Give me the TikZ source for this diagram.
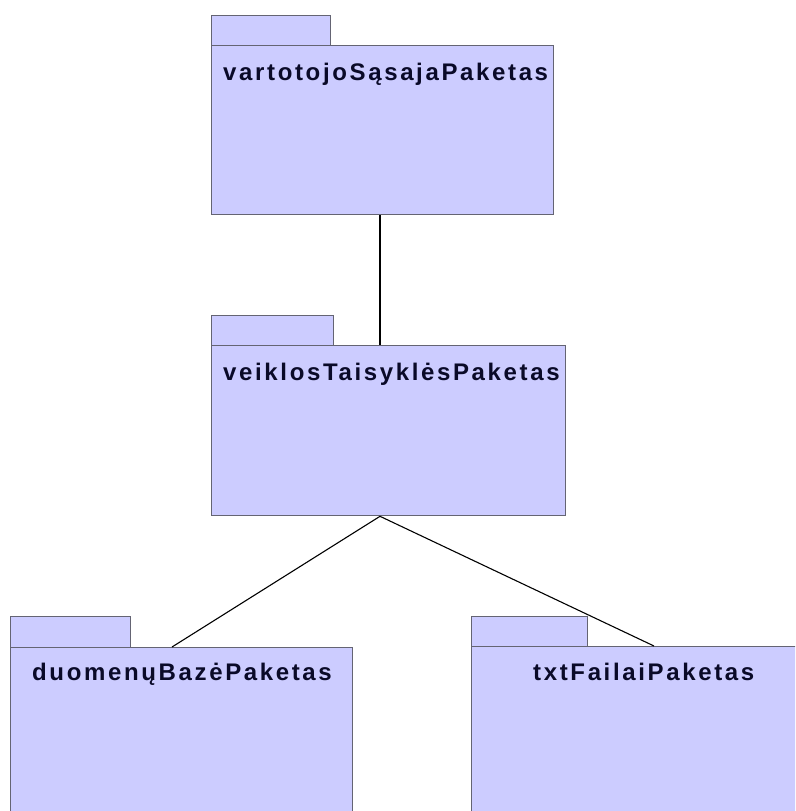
\documentclass[tikz,border=0pt]{standalone}
\usepackage{fontspec}
\setmainfont{Liberation Sans}
\begin{document}
\begin{tikzpicture}[x=1pt,y=-1pt,
  pkg/.style={draw=pkgline,fill=pkgfill,line width=1.3pt,rectangle,inner sep=0pt,anchor=north west},
  pkgtext/.style={anchor=base west,inner sep=0pt,text=pkgtext,font=\fontsize{24}{25}\selectfont\bfseries\addfontfeature{LetterSpace=11}},
  conn/.style={draw=black,line width=1.1pt}]
\definecolor{pkgfill}{RGB}{204,204,255}
\definecolor{pkgline}{RGB}{100,100,115}
\definecolor{pkgtext}{RGB}{10,10,40}
\useasboundingbox (0,0) rectangle (795,811);
\clip (0,0) rectangle (795,811);
% top package
\node[pkg,minimum width=119pt,minimum height=30pt] (tab1) at (211,15) {};
\node[pkg,minimum width=342pt,minimum height=169pt] (b1) at (211,45) {};
\node[pkgtext] (t1) at (223,80) {vartotojoSąsajaPaketas};
% middle package
\node[pkg,minimum width=122pt,minimum height=30pt] (tab2) at (211,315) {};
\node[pkg,minimum width=354pt,minimum height=170pt] (b2) at (211,345) {};
\node[pkgtext] (t2) at (223,380) {veiklosTaisyklėsPaketas};
% bottom left package
\node[pkg,minimum width=120pt,minimum height=31pt] (tab3) at (10,616) {};
\node[pkg,minimum width=342pt,minimum height=175pt] (b3) at (10,647) {};
\node[pkgtext] (t3) at (32,680) {duomenųBazėPaketas};
% bottom right package
\node[pkg,minimum width=116pt,minimum height=30pt] (tab4) at (471,616) {};
\node[pkg,minimum width=343pt,minimum height=175pt] (b4) at (471,646) {};
\node[pkgtext] (t4) at (533,680) {txtFailaiPaketas};
% connectors
\draw[conn] ([xshift=169pt]b1.south west) -- ([xshift=169pt]b2.north west);
\draw[conn] ([xshift=169pt]b2.south west) -- ([xshift=162pt]b3.north west);
\draw[conn] ([xshift=169pt]b2.south west) -- ([xshift=183pt]b4.north west);
\end{tikzpicture}
\end{document}
